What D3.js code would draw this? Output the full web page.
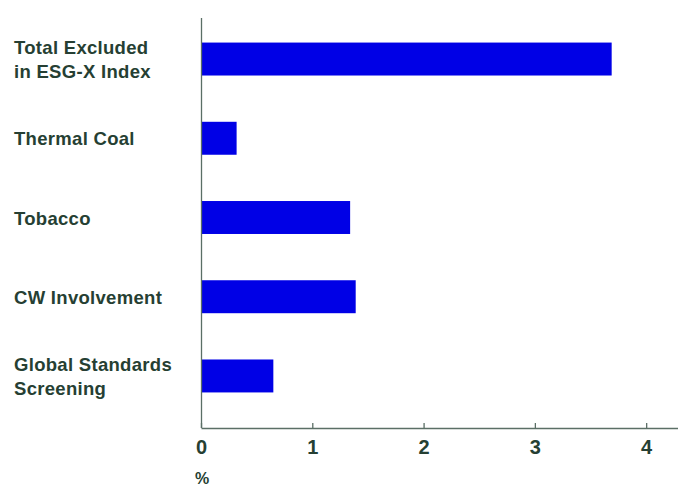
<!DOCTYPE html>
<html>
<head>
<meta charset="utf-8">
<script src="https://cdn.jsdelivr.net/npm/d3@7"></script>
<style>
  body { margin: 0; background: #fff; }
  text { font-family: "Liberation Sans", Arial, sans-serif; font-weight: bold; fill: #263f33; }
</style>
</head>
<body>
<div id="chart-area"></div>
<script>
// data
var categories = [
    ["Total Excluded", "in ESG-X Index"],
    ["Thermal Coal"],
    ["Tobacco"],
    ["CW Involvement"],
    ["Global Standards", "Screening"]
];
var values = [3.69, 0.32, 1.34, 1.39, 0.65];
var tickValues = [0, 1, 2, 3, 4];

var W = 678, H = 487;
var margin = {left: 201, top: 18, bottom: 59};
var axisY = H - margin.bottom; // 428

var svg = d3.select("#chart-area")
    .append("svg")
        .attr("width", W)
        .attr("height", H);

var x = d3.scaleLinear()
    .domain([0, 4.286])
    .range([margin.left, W]);

var y = d3.scaleBand()
    .domain(d3.range(categories.length))
    .range([margin.top, 417])
    .paddingInner(0.584)
    .paddingOuter(0.31);

// bars
svg.selectAll("rect.bar").data(values)
    .enter().append("rect")
        .attr("class", "bar")
        .attr("x", x(0))
        .attr("y", function(d, i){ return y(i); })
        .attr("width", function(d){ return x(d) - x(0); })
        .attr("height", y.bandwidth())
        .attr("fill", "#0000e6");

// y axis line
svg.append("line")
    .attr("x1", x(0) + 0.5).attr("x2", x(0) + 0.5)
    .attr("y1", margin.top).attr("y2", axisY)
    .attr("stroke", "#5b6f66")
    .attr("stroke-width", 1.3);

// x axis
var xAxisCall = d3.axisBottom(x)
    .tickValues(tickValues)
    .tickSizeInner(-5)
    .tickSizeOuter(0)
    .tickPadding(12)
    .tickFormat(d3.format("d"));
var xAxis = svg.append("g")
    .attr("transform", "translate(0," + axisY + ")")
    .call(xAxisCall);
xAxis.select(".domain").attr("stroke", "#5b6f66").attr("stroke-width", 1.3);
xAxis.selectAll(".tick line").attr("stroke", "#5b6f66").attr("stroke-width", 1.3);
xAxis.selectAll(".tick text")
    .attr("font-size", "20px")
    .attr("fill", "#263f33")
    .style("font-family", "Liberation Sans, Arial, sans-serif")
    .style("font-weight", "bold");

// category labels
var lineH = 24;
var labels = svg.selectAll("text.cat").data(categories)
    .enter().append("text")
        .attr("class", "cat")
        .attr("x", 14)
        .attr("font-size", "18.5px")
        .attr("letter-spacing", "0.3px")
        .attr("y", function(d, i){
            var c = y(i) + y.bandwidth() / 2;
            return c + 7 - (d.length - 1) * lineH / 2;
        });
labels.selectAll("tspan").data(function(d){ return d; })
    .enter().append("tspan")
        .attr("x", 14)
        .attr("dy", function(d, j){ return j === 0 ? 0 : lineH; })
        .text(function(d){ return d; });

// unit label
svg.append("text")
    .attr("x", 195)
    .attr("y", 484)
    .attr("font-size", "16px")
    .text("%");
</script>
</body>
</html>
